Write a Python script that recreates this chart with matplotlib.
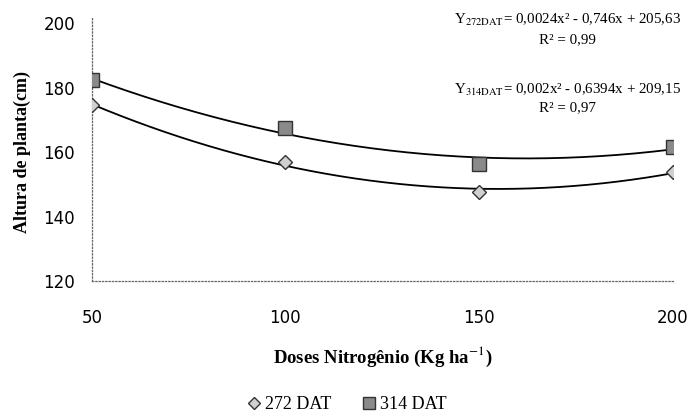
import matplotlib.pyplot as plt
import numpy as np
from matplotlib.lines import Line2D

doses = [50, 100, 150, 200]
altura_272 = [174.5, 156.8, 147.6, 153.8]
altura_314 = [182.2, 167.6, 156.4, 161.5]
series_labels = ["272 DAT", "314 DAT"]
eq_272 = "Y$_{\\mathrm{272DAT}}$= 0,0024x² - 0,746x + 205,63\nR² = 0,99"
eq_314 = "Y$_{\\mathrm{314DAT}}$= 0,002x² - 0,6394x + 209,15\nR² = 0,97"

plt.rcParams['mathtext.fontset'] = 'stix'

fig = plt.figure(figsize=(6.9, 4.19), dpi=100)
ax = fig.add_axes([0.133, 0.329, 0.842, 0.616])

xs = np.linspace(50, 200, 200)
for vals, marker, fc, ms in [(altura_272, 'D', '#d0d0d0', 7), (altura_314, 's', '#8a8a8a', 9.5)]:
    coef = np.polyfit(doses, vals, 2)
    ax.plot(xs, np.polyval(coef, xs), color='black', lw=1.3, zorder=2)
    ax.plot(doses, vals, ls='none', marker=marker, ms=ms, mfc=fc, mec='#333333', mew=1, zorder=3)

ax.set_xlim(50, 200)
ax.set_ylim(120, 200)
ax.set_xticks(doses)
ax.set_yticks([120, 140, 160, 180, 200])
ax.tick_params(length=0, labelsize=12)
ax.tick_params(axis='x', pad=20)
ax.tick_params(axis='y', pad=12)
for s in ['top', 'right']:
    ax.spines[s].set_visible(False)
for s in ['left', 'bottom']:
    ax.spines[s].set_linestyle(':')
    ax.spines[s].set_color('#666666')
    ax.spines[s].set_linewidth(0.9)
ax.spines['left'].set_bounds(120, 201.5)

ax.set_ylabel("Altura de planta(cm)", family='Liberation Serif', fontweight='bold', fontsize=13, labelpad=9)
ax.set_xlabel("Doses Nitrogênio (Kg ha$^{\\mathrm{-1}}$)", family='Liberation Serif', fontweight='bold', fontsize=13.5, labelpad=13)

fig.text(0.822, 0.931, eq_272, family='Liberation Serif', fontsize=10.8, ha='center', va='center', linespacing=1.45)
fig.text(0.822, 0.766, eq_314, family='Liberation Serif', fontsize=10.8, ha='center', va='center', linespacing=1.4)

handles = [Line2D([], [], ls='none', marker='D', ms=6, mfc='#d0d0d0', mec='#333333'),
           Line2D([], [], ls='none', marker='s', ms=8, mfc='#8a8a8a', mec='#333333')]
fig.legend(handles, series_labels, loc='center', bbox_to_anchor=(0.5, 0.035), ncol=2, frameon=False,
           prop={'family': 'Liberation Serif', 'size': 13}, handletextpad=0.0, columnspacing=1.5, handlelength=1.2)

fig.savefig("out.png", dpi=100)
